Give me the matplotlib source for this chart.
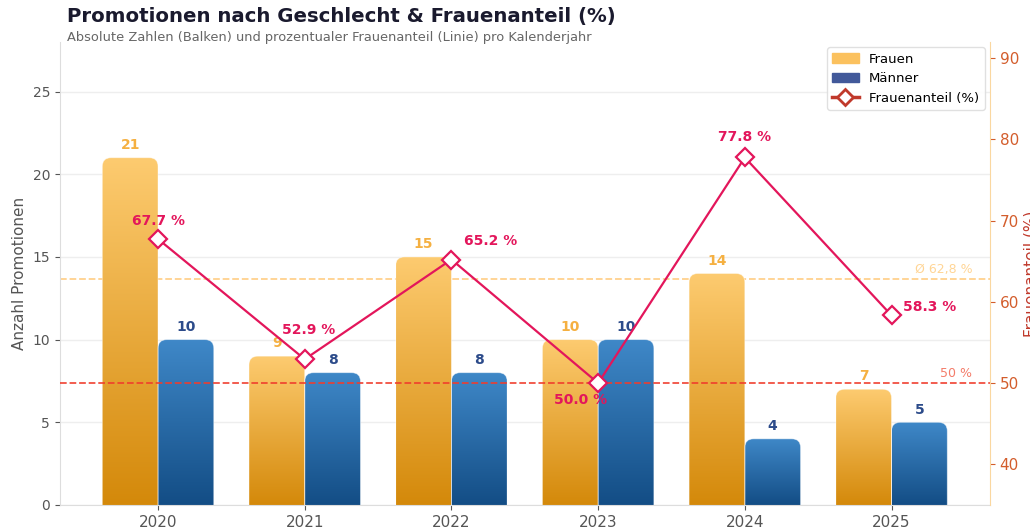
import numpy as np
import matplotlib
matplotlib.use("Agg")
import matplotlib.pyplot as plt
from matplotlib.patches import FancyBboxPatch, Patch
from matplotlib.lines import Line2D
from matplotlib.colors import LinearSegmentedColormap
from matplotlib.transforms import blended_transform_factory

# Daten
jahre = ["2020", "2021", "2022", "2023", "2024", "2025"]
frauen = [21, 9, 15, 10, 14, 7]
maenner = [10, 8, 8, 10, 4, 5]

anteil = [100 * f / (f + m) for f, m in zip(frauen, maenner)]
schnitt = 100 * sum(frauen) / (sum(frauen) + sum(maenner))

# Versatz der Prozent-Labels (Punkte)
label_off = [(0, 13), (3, 21), (28, 13), (-13, -12), (0, 15), (8, 6)]
label_ha = ["center", "center", "center", "center", "center", "left"]

x = np.arange(len(jahre))
w = 0.38

fig = plt.figure(figsize=(10.3, 5.31), dpi=100)
ax = fig.add_axes([0.058, 0.049, 0.903, 0.872])
ax2 = ax.twinx()


def gradient_bar(ax, xc, h, c_top, c_bot):
    patch = FancyBboxPatch((xc - w / 2, -2), w, h + 2,
                           boxstyle="round,pad=0,rounding_size=0.06",
                           mutation_aspect=8.8, facecolor="none",
                           edgecolor="white", lw=0.6, alpha=0.5, zorder=3)
    ax.add_patch(patch)
    cmap = LinearSegmentedColormap.from_list("g", [c_bot, c_top])
    img = np.linspace(0, 1, 256).reshape(-1, 1)
    im = ax.imshow(img, cmap=cmap, extent=[xc - w / 2, xc + w / 2, 0, h],
                   origin="lower", aspect="auto", zorder=2)
    im.set_clip_path(patch)


for i in range(len(jahre)):
    gradient_bar(ax, x[i] - w / 2, frauen[i], "#FDCB70", "#D4890A")
    gradient_bar(ax, x[i] + w / 2, maenner[i], "#3F88C8", "#134D85")
    ax.text(x[i] - w / 2, frauen[i] + 0.35, str(frauen[i]), ha="center",
            va="bottom", fontsize=10, fontweight="bold", color="#F5B041")
    ax.text(x[i] + w / 2, maenner[i] + 0.35, str(maenner[i]), ha="center",
            va="bottom", fontsize=10, fontweight="bold", color="#2C4B8A")

ax.set_xlim(-0.67, len(jahre) - 0.33)
ax.set_ylim(0, 28)
ax.set_yticks([0, 5, 10, 15, 20, 25])
ax.set_xticks(x)
ax.set_xticklabels(jahre)
ax.grid(axis="y", color="#EEEEEE", lw=1, zorder=0)
ax.set_axisbelow(True)
ax.tick_params(axis="both", colors="#555555", labelsize=10)
ax.tick_params(axis="x", labelsize=11, colors="#555555")
ax.set_ylabel("Anzahl Promotionen", color="#555555", fontsize=11)
for s in ["top", "right"]:
    ax.spines[s].set_visible(False)
ax.spines["left"].set_color("#DDDDDD")
ax.spines["bottom"].set_color("#DDDDDD")

# Durchschnitt hinter den Balken (y in Prozent-Skala)
ax2.set_ylim(35, 92)
trans = blended_transform_factory(ax.transAxes, ax2.transData)
ax.plot([0, 1], [schnitt, schnitt], transform=trans, color="#FFC97A",
        lw=1.3, ls="--", alpha=0.85, zorder=1)

# Linie Frauenanteil
ax2.plot(x, anteil, color="#E3165B", lw=1.6, marker="D", ms=9,
         markerfacecolor="white", markeredgecolor="#E3165B", mew=1.6, zorder=5)
for i, p in enumerate(anteil):
    ax2.annotate(f"{p:.1f} %", (x[i], p), xytext=label_off[i],
                 textcoords="offset points", ha=label_ha[i], va="center",
                 fontsize=10, fontweight="bold", color="#E3165B")

ax2.axhline(50, color="#F03C2C", lw=1.3, ls="--", alpha=0.9, zorder=1)
ax2.text(len(jahre) - 0.45, 50.4, "50 %", ha="right", va="bottom",
         fontsize=9, color="#F47C6A")
ax2.text(len(jahre) - 0.45, schnitt + 0.4, f"Ø {schnitt:.1f} %".replace(".", ","),
         ha="right", va="bottom", fontsize=9, color="#FFD595")

ax2.set_yticks([40, 50, 60, 70, 80, 90])
ax2.tick_params(axis="y", colors="#D35D2C", labelsize=11)
ax2.set_ylabel("Frauenanteil (%)", color="#C0392B", fontsize=11, labelpad=3)
for s in ["top", "left", "bottom"]:
    ax2.spines[s].set_visible(False)
ax2.spines["right"].set_color("#FAD7A0")

handles = [Patch(color="#FBC15E", label="Frauen"),
           Patch(color="#42599A", label="Männer"),
           Line2D([], [], color="#C0392B", lw=2.5, marker="D", ms=8,
                  markerfacecolor="white", markeredgecolor="#C0392B", mew=2,
                  label="Frauenanteil (%)")]
ax2.legend(handles=handles, loc="upper right", fontsize=9.5, framealpha=0.9,
           edgecolor="#DDDDDD", borderaxespad=0.4)

fig.text(0.065, 0.968, "Promotionen nach Geschlecht & Frauenanteil (%)",
         fontsize=14.2, fontweight="bold", color="#1A1A2E", va="center")
fig.text(0.065, 0.93, "Absolute Zahlen (Balken) und prozentualer Frauenanteil (Linie) pro Kalenderjahr",
         fontsize=9.4, color="#666666", va="center")

fig.savefig("out.png", dpi=100)
